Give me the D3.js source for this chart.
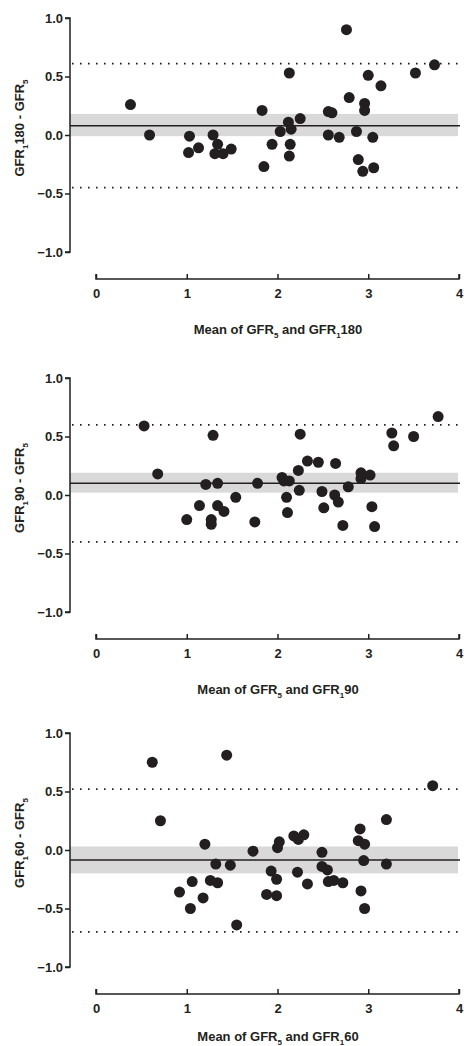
<!DOCTYPE html>
<html>
<head>
<meta charset="utf-8">
<script src="https://cdn.jsdelivr.net/npm/d3@7"></script>
<style>
  body { margin: 0; background: #fff; }
  text { font-family: "Liberation Sans", Arial, sans-serif; font-weight: bold; fill: #231f20; }
</style>
</head>
<body>
<svg id="chart" width="464" height="1046"></svg>
<script>
// Bland-Altman data: [mean, difference]
const points180 = [[0.38,0.26],[0.59,0.00],[1.03,-0.01],[1.02,-0.15],[1.13,-0.11],[1.29,0.00],[1.34,-0.08],
  [1.31,-0.16],[1.40,-0.16],[1.49,-0.12],[1.83,0.21],[1.85,-0.27],[1.94,-0.08],[2.03,0.03],[2.13,0.53],
  [2.12,0.11],[2.15,0.05],[2.14,-0.08],[2.13,-0.18],[2.25,0.14],[2.76,0.90],[2.79,0.32],[2.56,0.20],
  [2.60,0.19],[2.56,0.00],[2.68,-0.02],[2.87,0.03],[2.89,-0.21],[2.94,-0.31],[2.96,0.27],[2.96,0.21],
  [3.00,0.51],[3.05,-0.02],[3.06,-0.28],[3.14,0.42],[3.52,0.53],[3.73,0.60]];
const points90 = [[0.53,0.59],[0.68,0.18],[1.00,-0.21],[1.14,-0.09],[1.21,0.09],[1.29,0.51],[1.27,-0.21],
  [1.27,-0.25],[1.34,0.10],[1.34,-0.09],[1.41,-0.14],[1.54,-0.02],[1.75,-0.23],[1.78,0.10],[2.05,0.15],
  [2.07,0.12],[2.13,0.12],[2.10,-0.02],[2.11,-0.15],[2.23,0.21],[2.24,0.04],[2.25,0.52],[2.33,0.29],
  [2.45,0.28],[2.49,0.03],[2.51,-0.11],[2.64,0.27],[2.63,0.00],[2.67,-0.06],[2.72,-0.26],[2.78,0.07],
  [2.92,0.19],[2.92,0.14],[3.02,0.17],[3.04,-0.10],[3.07,-0.27],[3.26,0.53],[3.28,0.42],[3.50,0.50],[3.77,0.67]];
const points60 = [[0.62,0.75],[0.71,0.25],[0.92,-0.36],[1.04,-0.50],[1.06,-0.27],[1.18,-0.41],[1.20,0.05],
  [1.26,-0.26],[1.32,-0.12],[1.34,-0.28],[1.44,0.81],[1.48,-0.13],[1.55,-0.64],[1.73,-0.01],[1.88,-0.38],
  [1.93,-0.18],[1.99,-0.39],[1.99,-0.25],[2.00,0.02],[2.02,0.07],[2.18,0.12],[2.23,0.09],[2.29,0.13],
  [2.22,-0.19],[2.33,-0.29],[2.49,-0.02],[2.49,-0.14],[2.55,-0.17],[2.56,-0.27],[2.62,-0.26],[2.72,-0.28],
  [2.89,0.08],[2.91,0.18],[2.96,0.05],[2.95,-0.09],[2.92,-0.35],[2.96,-0.50],[3.20,0.26],[3.20,-0.12],[3.71,0.55]];

// bias, 95% CI of bias [lo, hi], limits of agreement [lo, hi]
const bias = [0.08, 0.10, -0.085];
const biasCI = [[-0.01, 0.18], [0.02, 0.19], [-0.20, 0.03]];
const limits = [[-0.45, 0.61], [-0.40, 0.60], [-0.70, 0.52]];
const labels = ["180", "90", "60"];
const xTicks = [0, 1, 2, 3, 4];
const yTicks = [-1.0, -0.5, 0.0, 0.5, 1.0];

const panels = [
  { data: points180, top: 18 },
  { data: points90, top: 378 },
  { data: points60, top: 733 }
];

const svg = d3.select("#chart");
const x = d3.scaleLinear().domain([0, 4]).range([96, 459]);
const ink = "#231f20";

function styleTicks(sel) {
  sel.selectAll(".tick line").attr("stroke", ink).attr("stroke-width", 1.5);
  sel.selectAll(".tick text")
    .style("font-size", "13px")
    .style("font-family", "Liberation Sans, Arial")
    .style("font-weight", "bold")
    .attr("fill", ink);
}

panels.forEach((p, k) => {
  const y = d3.scaleLinear().domain([-1, 1]).range([p.top + 234, p.top]);
  const g = svg.append("g");

  g.append("rect")
    .attr("x", 70).attr("width", 388)
    .attr("y", y(biasCI[k][1]))
    .attr("height", y(biasCI[k][0]) - y(biasCI[k][1]))
    .attr("fill", "#d9d9da");

  g.append("line")
    .attr("x1", 70).attr("x2", 460)
    .attr("y1", y(bias[k])).attr("y2", y(bias[k]))
    .attr("stroke", ink).attr("stroke-width", 1.5);

  limits[k].forEach(v => {
    g.append("line")
      .attr("x1", 72).attr("x2", 460)
      .attr("y1", y(v)).attr("y2", y(v))
      .attr("stroke", ink).attr("stroke-width", 1.8)
      .attr("stroke-dasharray", "1.6,6.4");
  });

  g.selectAll("circle").data(p.data).enter().append("circle")
    .attr("cx", d => x(d[0])).attr("cy", d => y(d[1]))
    .attr("r", 5.5).attr("fill", ink);

  // y axis
  const ya = g.append("g").attr("transform", "translate(70,0)")
    .call(d3.axisLeft(y).tickValues(yTicks).tickFormat(d3.format(".1f")).tickSize(5).tickPadding(2));
  ya.select(".domain").attr("stroke", ink).attr("stroke-width", 1.5).attr("d", `M-5,${p.top}H0V${p.top + 234}H-5`);
  styleTicks(ya);

  // x axis (detached)
  const xa = g.append("g").attr("transform", `translate(0,${p.top + 261})`)
    .call(d3.axisBottom(x).tickValues(xTicks).tickFormat(d3.format("d")).tickSize(-5).tickPadding(10));
  xa.select(".domain").attr("stroke", ink).attr("stroke-width", 1.5).attr("d", `M96,-5V0H459V-5`);
  styleTicks(xa);

  // x title
  const xt = g.append("text").attr("x", 278).attr("y", Math.min(p.top + 316, 1041))
    .attr("text-anchor", "middle").style("font-size", "13px");
  xt.append("tspan").text("Mean of GFR");
  xt.append("tspan").text("5").attr("dy", 4).style("font-size", "8px");
  xt.append("tspan").text(" and GFR").attr("dy", -4);
  xt.append("tspan").text("1").attr("dy", 4).style("font-size", "8px");
  xt.append("tspan").text(labels[k]).attr("dy", -4);

  // y title
  const yt = g.append("text")
    .attr("transform", `translate(24,${p.top + 110}) rotate(-90)`)
    .attr("text-anchor", "middle").style("font-size", "13px");
  yt.append("tspan").text("GFR");
  yt.append("tspan").text("1").attr("dy", 4).style("font-size", "8px");
  yt.append("tspan").text(labels[k] + " - GFR").attr("dy", -4);
  yt.append("tspan").text("5").attr("dy", 4).style("font-size", "8px");
});
</script>
</body>
</html>
